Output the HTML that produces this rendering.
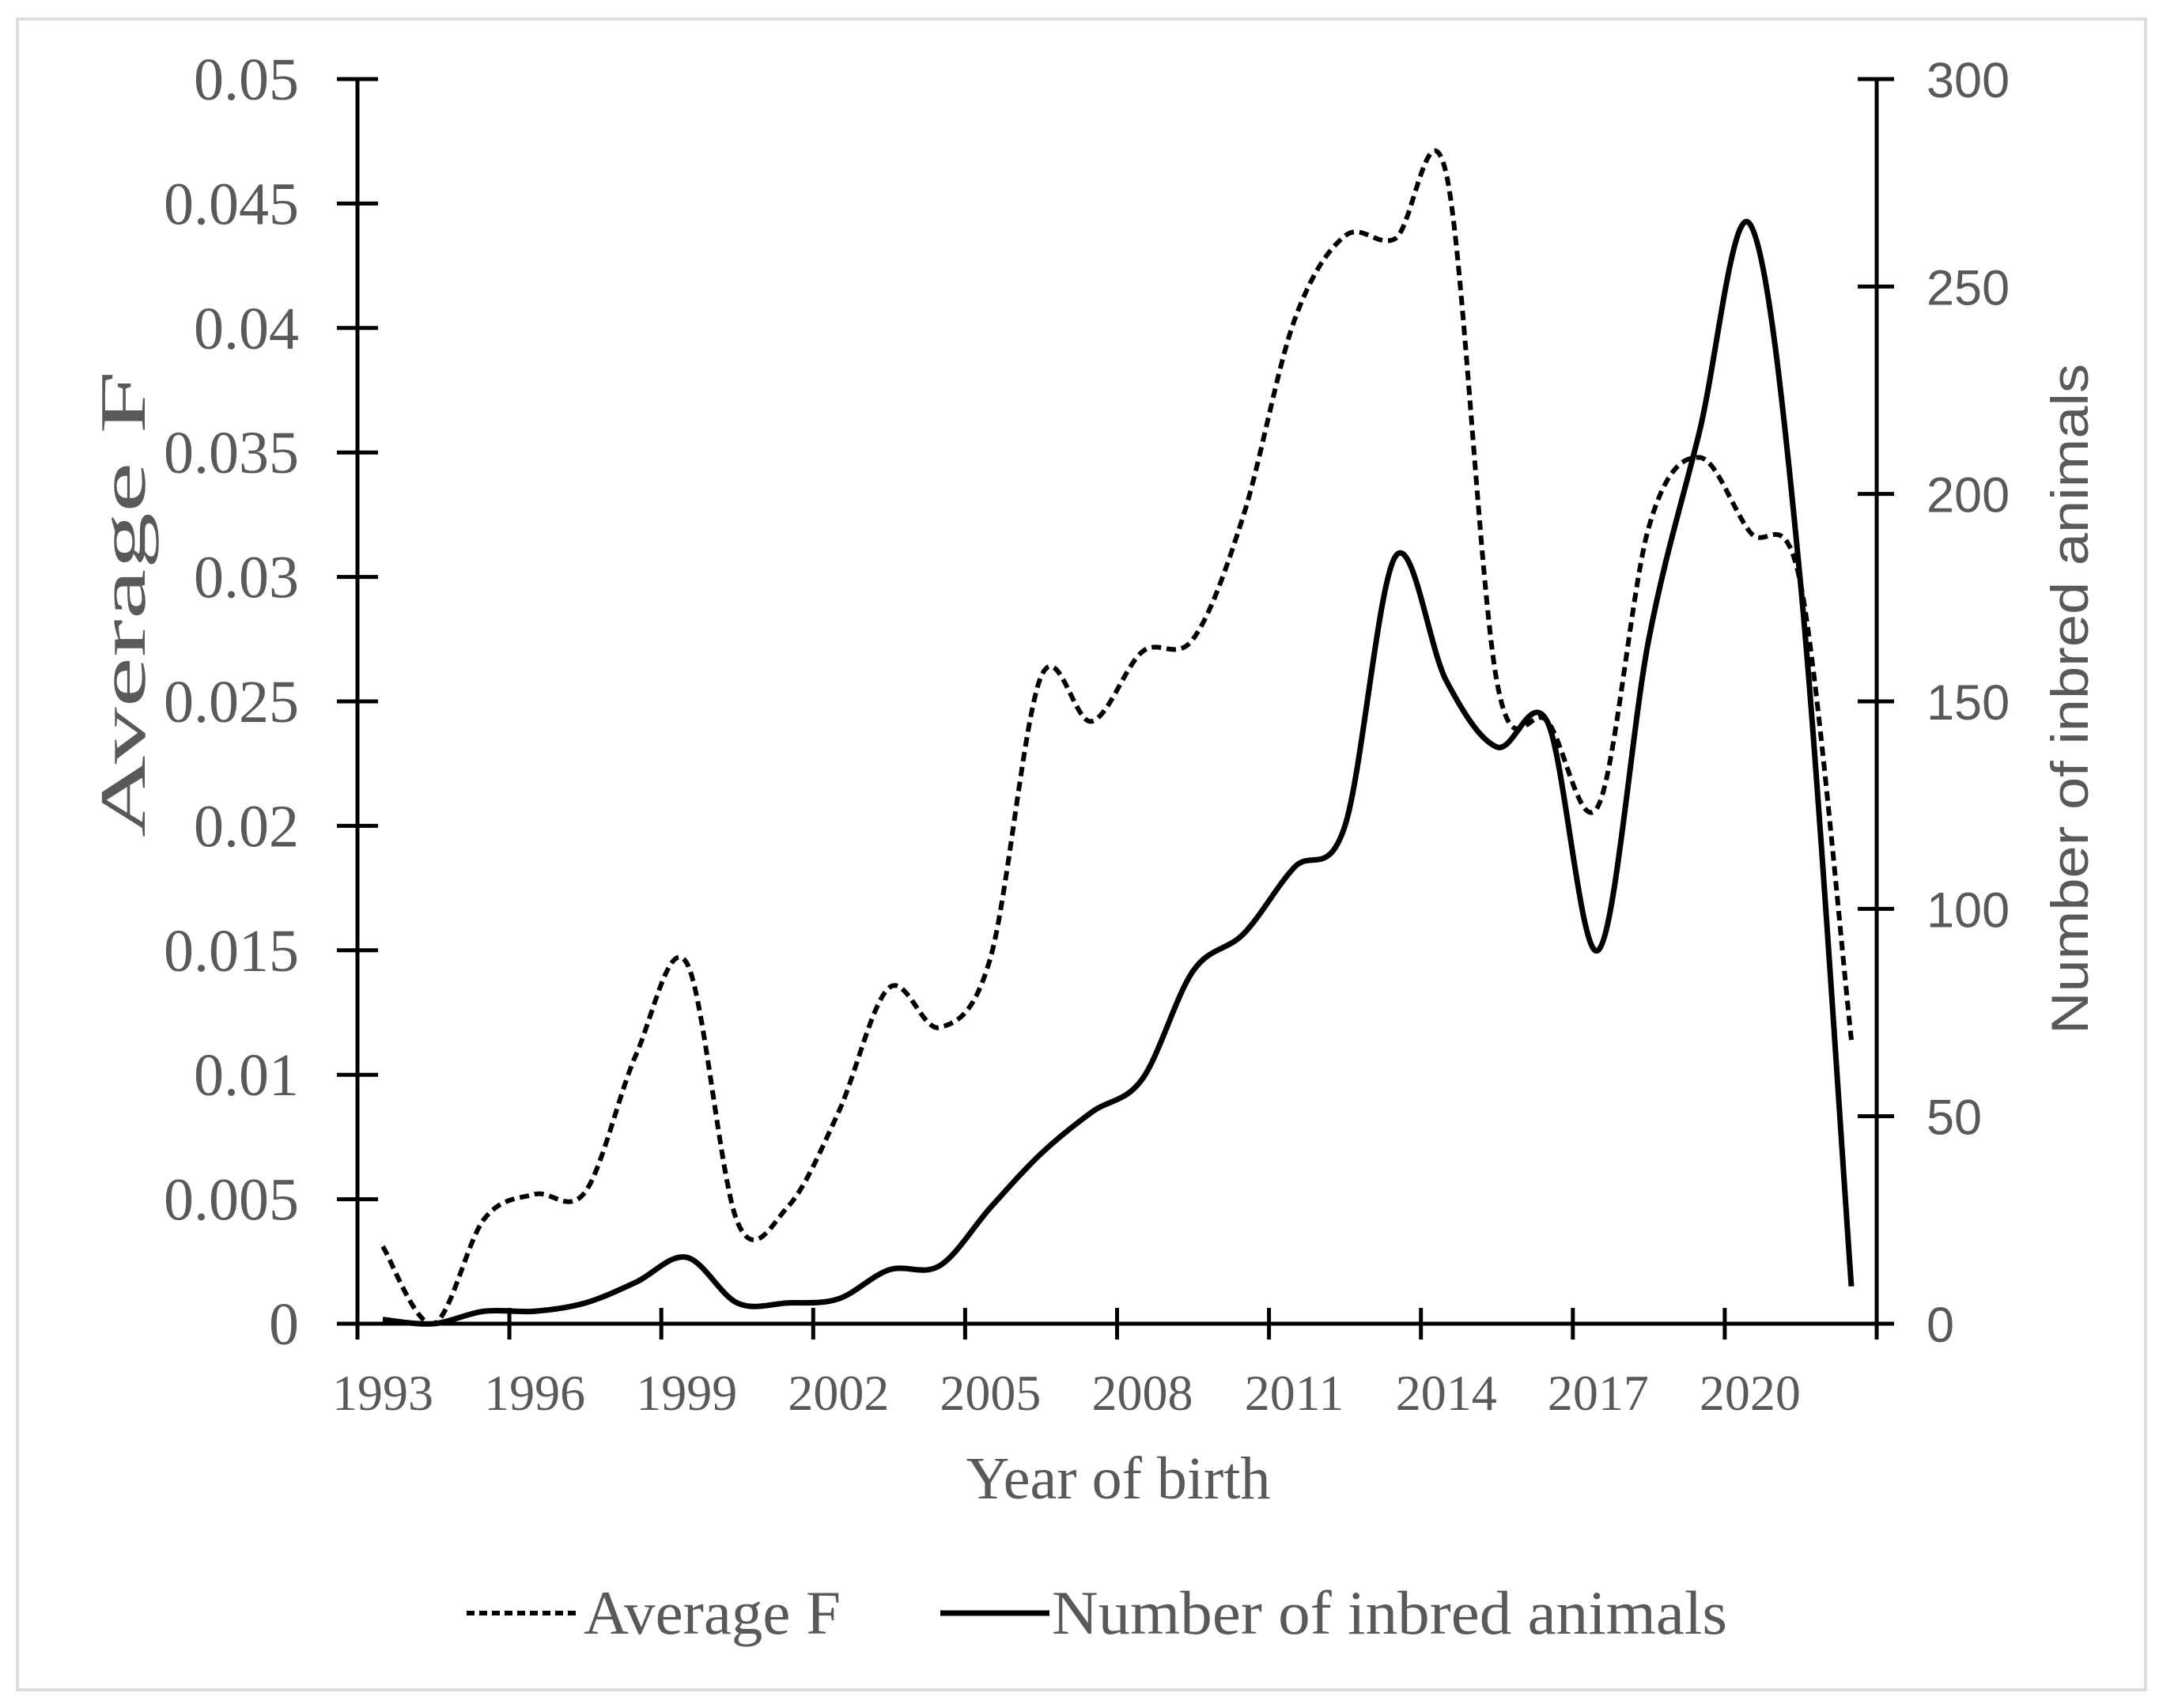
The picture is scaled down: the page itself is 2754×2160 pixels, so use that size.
<!DOCTYPE html>
<html><head><meta charset="utf-8">
<style>
html,body{margin:0;padding:0;background:#fff;}
svg{display:block;}
.serif{font-family:"Liberation Serif",serif;fill:#595959;}
.sans{font-family:"Liberation Sans",sans-serif;fill:#595959;}
</style></head>
<body>
<svg id="chart" width="2754" height="2160" viewBox="0 0 2754 2160" xmlns="http://www.w3.org/2000/svg">
<rect x="22" y="24" width="2691" height="2113" fill="#fff" stroke="#dcdcdc" stroke-width="4"/>
<g id="axes"></g>
<g id="series"></g>
<text class="serif" x="1414" y="1895" font-size="76" text-anchor="middle" textLength="385" lengthAdjust="spacingAndGlyphs">Year of birth</text>
<text class="serif" font-size="82" text-anchor="middle" transform="translate(183,764) rotate(-90)" textLength="590" lengthAdjust="spacingAndGlyphs">Average F</text>
<text class="sans" font-size="66" text-anchor="middle" transform="translate(2640,884) rotate(-90)" textLength="848" lengthAdjust="spacingAndGlyphs">Number of inbred animals</text>
<g>
  <g>
    <line x1="590" y1="2040" x2="732" y2="2040" stroke="#000" stroke-width="6" stroke-dasharray="10 6"/>
    <text class="serif" x="738" y="2066" font-size="78" textLength="325" lengthAdjust="spacingAndGlyphs">Average F</text>
  </g>
  <g>
    <line x1="1189" y1="2040" x2="1327" y2="2040" stroke="#000" stroke-width="7"/>
    <text class="serif" x="1330" y="2066" font-size="78" textLength="854" lengthAdjust="spacingAndGlyphs">Number of inbred animals</text>
  </g>
</g>
</svg>
<script>
const years = [1993,1994,1995,1996,1997,1998,1999,2000,2001,2002,2003,2004,2005,2006,2007,2008,2009,2010,2011,2012,2013,2014,2015,2016,2017,2018,2019,2020,2021,2022];
const averageF = [0.0031,0,0.0042,0.0052,0.0053,0.0108,0.0145,0.0041,0.0047,0.0085,0.0135,0.0119,0.0147,0.026,0.0242,0.027,0.0275,0.0325,0.0403,0.0437,0.0436,0.0462,0.0258,0.0242,0.0208,0.032,0.0348,0.0318,0.0297,0.0114];
const inbredCount = [1,0,3,3,5,10,16,5,5,6,13,14,28,41,51,59,85,94,110,120,185,155,139,145,90,165,215,265,178,9];
const leftTicks = [0,0.005,0.01,0.015,0.02,0.025,0.03,0.035,0.04,0.045,0.05];
const leftTickLabels = ["0","0.005","0.01","0.015","0.02","0.025","0.03","0.035","0.04","0.045","0.05"];
const rightTicks = [0,50,100,150,200,250,300];
const yearLabelEvery = 3;

const NS = "http://www.w3.org/2000/svg";
const X0 = 452, X1 = 2373, YT = 100, YB = 1674;
const catW = (X1 - X0) / years.length;
function xPos(i){ return X0 + catW * (i + 0.5); }
function yLeft(v){ return YB - (v / 0.05) * (YB - YT); }
function yRight(v){ return YB - (v / 300) * (YB - YT); }
function mk(tag, attrs, parent){ const e = document.createElementNS(NS, tag); for (const k in attrs) e.setAttribute(k, attrs[k]); parent.appendChild(e); return e; }

const axes = document.getElementById('axes');
let el;
el = mk('line', {x1:X0, y1:YT, x2:X0, y2:YB, stroke:'#000', 'stroke-width':5}, axes);


el = mk('line', {x1:X1, y1:YT, x2:X1, y2:YB, stroke:'#000', 'stroke-width':5}, axes);


el = mk('line', {x1:X0-26, y1:YB, x2:X1+22, y2:YB, stroke:'#000', 'stroke-width':5}, axes);



leftTicks.forEach((t, i) => {
  const y = yLeft(t);
  const tk = mk('line', {x1:X0-26, y1:y, x2:X0+26, y2:y, stroke:'#000', 'stroke-width':5}, axes);
  
  
  const tx = mk('text', {x:378, y:y+26, 'font-size':76, 'text-anchor':'end', class:'serif'}, axes);
  
  
  tx.textContent = leftTickLabels[i];
});
rightTicks.forEach(t => {
  const y = yRight(t);
  const tk = mk('line', {x1:X1-24, y1:y, x2:X1+22, y2:y, stroke:'#000', 'stroke-width':5}, axes);
  
  
  const tx = mk('text', {x:2436, y:y+23, 'font-size':63, class:'sans'}, axes);
  
  
  tx.textContent = String(t);
});
for (let i = 0; i <= years.length; i += yearLabelEvery) {
  const x = X0 + catW * i;
  const tk = mk('line', {x1:x, y1:YB-20, x2:x, y2:YB+20, stroke:'#000', 'stroke-width':5}, axes);
  
  
  if (i < years.length) {
    const tx = mk('text', {x:xPos(i), y:1783, 'font-size':64, 'text-anchor':'middle', class:'serif'}, axes);
    
    
    tx.textContent = String(years[i]);
  }
}

function smoothPath(pts){
  let d = 'M' + pts[0][0] + ',' + pts[0][1];
  for (let i = 0; i < pts.length - 1; i++) {
    const p0 = pts[Math.max(0, i-1)], p1 = pts[i], p2 = pts[i+1], p3 = pts[Math.min(pts.length-1, i+2)];
    const c1x = p1[0] + (p2[0]-p0[0])/6, c1y = p1[1] + (p2[1]-p0[1])/6;
    const c2x = p2[0] - (p3[0]-p1[0])/6, c2y = p2[1] - (p3[1]-p1[1])/6;
    d += ' C' + c1x + ',' + c1y + ' ' + c2x + ',' + c2y + ' ' + p2[0] + ',' + p2[1];
  }
  return d;
}
const series = document.getElementById('series');
const pF = smoothPath(averageF.map((v, i) => [xPos(i), yLeft(v)]));
el = mk('path', {d:pF, fill:'none', stroke:'#000', 'stroke-width':6, 'stroke-dasharray':'12 7'}, series);


const pN = smoothPath(inbredCount.map((v, i) => [xPos(i), yRight(v)]));
el = mk('path', {d:pN, fill:'none', stroke:'#000', 'stroke-width':7, 'stroke-linejoin':'round'}, series);


</script>
</body></html>
